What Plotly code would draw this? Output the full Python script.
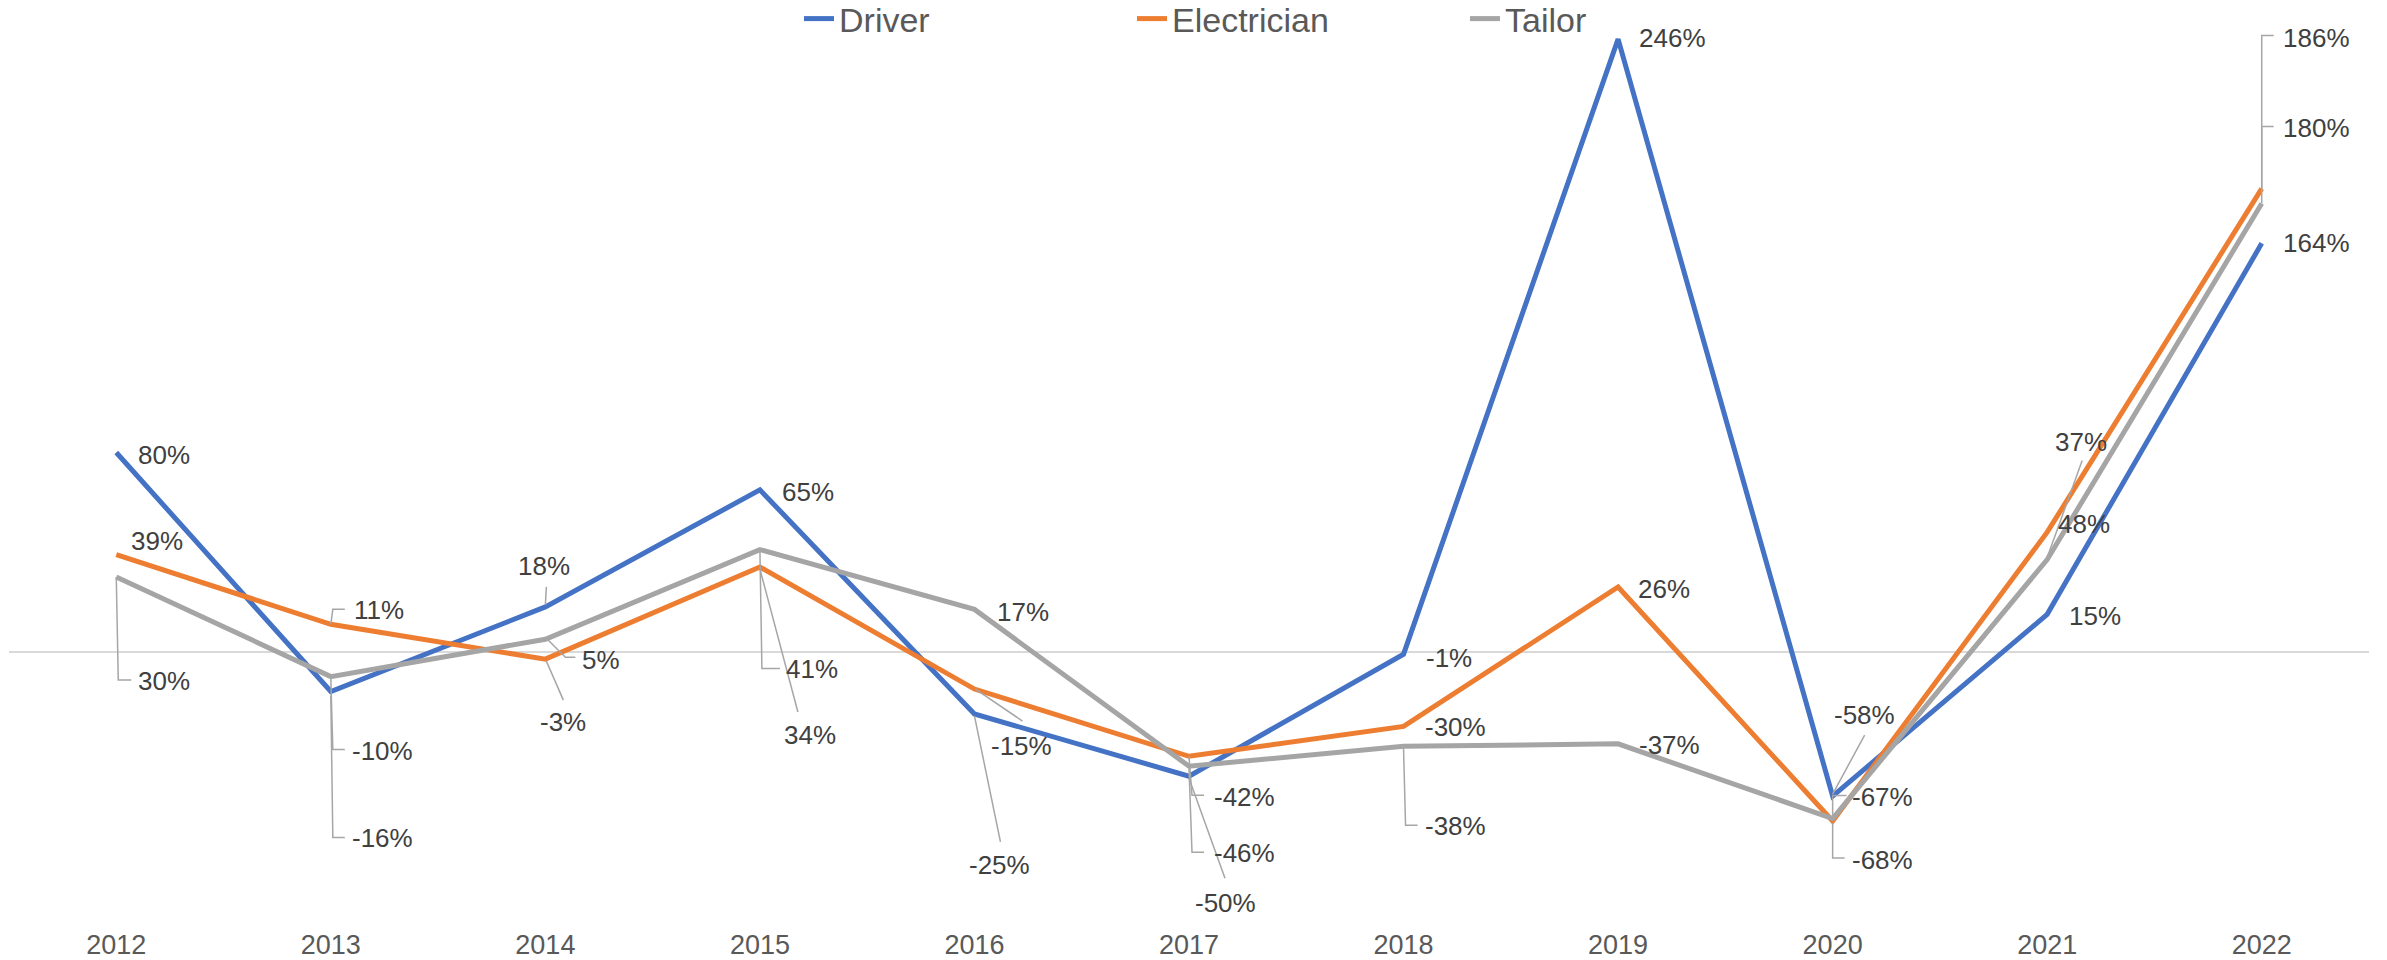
import plotly.graph_objects as go

years = ["2012", "2013", "2014", "2015", "2016", "2017", "2018", "2019", "2020", "2021", "2022"]
driver = [80, -16, 18, 65, -25, -50, -1, 246, -58, 15, 164]
electrician = [39, 11, -3, 34, -15, -42, -30, 26, -68, 48, 186]
tailor = [30, -10, 5, 41, 17, -46, -38, -37, -67, 37, 180]

series_names = ["Driver", "Electrician", "Tailor"]
series_values = [driver, electrician, tailor]
series_colors = ["#4472C4", "#ED7D31", "#A5A5A5"]

# label placement (screen px offsets from the point: dx right, dy down) and leader polylines
label_offsets = {
    "Driver": [(48, 2), (52, 146), (-1, -41), (48, 2), (25, 151), (36, 127), (45, 4), (54, -1), (32, -81), (48, 2), (55, 0)],
    "Electrician": [(41, -14), (48, -14), (18, 63), (50, 168), (47, 57), (55, 41), (52, 1), (46, 2), (50, 39), (37, -8), (55, -151)],
    "Tailor": [(48, 104), (52, 74), (56, 21), (52, 119), (49, 3), (55, 87), (52, 80), (51, 1), (50, -22), (34, -118), (55, -76)],
}
leaders = {
    "Driver": [None, [(0, 4), (2, 146), (14, 146)], [(0, -2), (1, -20)], None, [(0, 2), (26, 128)],
               [(0, 2), (36, 102)], None, None, [(0, -2), (32, -61)], None, None],
    "Electrician": [None, [(0, 0), (2, -15), (14, -15)], [(1, 2), (18, 41)], [(0, 2), (38, 145)],
                    [(1, 0), (48, 32)], [(0, 0), (3, 39), (15, 39)], None, None,
                    [(0, 2), (0, 37), (12, 37)], None, [(0, 0), (0, -153), (12, -153)]],
    "Tailor": [[(0, 0), (2, 103), (15, 103)], [(0, 2), (2, 73), (14, 73)], [(2, 0), (20, 18), (30, 18)],
               [(0, 0), (2, 119), (20, 119)], None, [(0, 2), (3, 86), (15, 86)],
               [(0, 2), (2, 79), (14, 79)], None, [(0, 0), (0, -23), (14, -23)],
               [(0, -2), (35, -99)], [(0, 0), (0, -77), (12, -77)]],
}

W, H = 2387, 960
left, right, top, bottom = 9, 2369, 0, 926
zero_px, px_per = 651.7, 2.49
y_range = [-(bottom - zero_px) / px_per, (zero_px - top) / px_per]
x_idx = list(range(len(years)))

fig = go.Figure()
for name, vals, col in zip(series_names, series_values, series_colors):
    fig.add_trace(go.Scatter(
        x=x_idx, y=vals, mode="lines", name=name,
        line=dict(color=col, width=5),
        hoverinfo="skip",
    ))

annotations = []
shapes = []
for name, vals in zip(series_names, series_values):
    for i, v in enumerate(vals):
        dx, dy = label_offsets[name][i]
        annotations.append(dict(
            x=x_idx[i], y=v, xref="x", yref="y", text=f"{v}%", showarrow=False,
            xshift=dx, yshift=-dy, xanchor="center", yanchor="middle",
            font=dict(family="Liberation Sans, Arial, sans-serif", size=26, color="#404040"),
        ))
        ld = leaders[name][i]
        if ld:
            path = "M" + " L".join(f"{px},{-py}" for px, py in ld)
            shapes.append(dict(
                type="path", xref="x", yref="y", xsizemode="pixel", ysizemode="pixel",
                xanchor=x_idx[i], yanchor=v, path=path,
                line=dict(color="#A6A6A6", width=1.5), layer="above",
            ))

fig.update_layout(
    width=W, height=H,
    margin=dict(l=left, r=W - right, t=top, b=H - bottom, pad=0, autoexpand=False),
    paper_bgcolor="white", plot_bgcolor="white",
    font=dict(family="Liberation Sans, Arial, sans-serif", color="#595959"),
    xaxis=dict(range=[-0.5, len(years) - 0.5], showgrid=False, zeroline=False,
               tickmode="array", tickvals=x_idx, ticktext=years,
               showline=False, ticks="", tickfont=dict(size=27, color="#595959")),
    yaxis=dict(range=y_range, showgrid=False, showticklabels=False, ticks="",
               zeroline=True, zerolinecolor="#D9D9D9", zerolinewidth=1.5, showline=False),
    showlegend=True,
    legend=dict(orientation="h", x=(799 - left) / (right - left), xanchor="left",
                y=1 - 19 / (bottom - top), yanchor="middle",
                font=dict(size=34, color="#595959"), entrywidth=288, entrywidthmode="pixels",
                bgcolor="rgba(0,0,0,0)"),
    annotations=annotations,
    shapes=shapes,
)

fig.write_html("out.html", config={"displayModeBar": False},
               post_script="document.body.style.margin='0';")
